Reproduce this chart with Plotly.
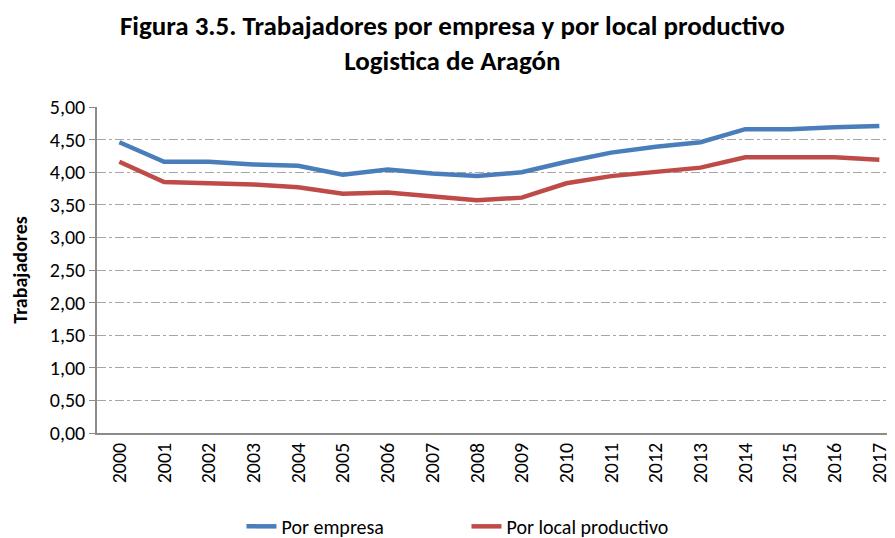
import plotly.graph_objects as go

# Data
years = [2000, 2001, 2002, 2003, 2004, 2005, 2006, 2007, 2008,
         2009, 2010, 2011, 2012, 2013, 2014, 2015, 2016, 2017]
por_empresa = [4.46, 4.16, 4.16, 4.12, 4.10, 3.96, 4.04, 3.98, 3.94,
               4.00, 4.16, 4.30, 4.39, 4.46, 4.66, 4.66, 4.69, 4.71]
por_local = [4.16, 3.85, 3.83, 3.81, 3.77, 3.67, 3.69, 3.63, 3.57,
             3.61, 3.83, 3.94, 4.01, 4.07, 4.23, 4.23, 4.23, 4.19]
y_ticks = [0, 0.5, 1, 1.5, 2, 2.5, 3, 3.5, 4, 4.5, 5]

font_family = "Carlito, 'Liberation Sans Narrow', 'Liberation Sans', Arial, sans-serif"

fig = go.Figure()
fig.add_trace(go.Scatter(
    x=years, y=por_empresa, mode='lines', name='Por empresa',
    line=dict(color='#4A7EBB', width=4.5)
))
fig.add_trace(go.Scatter(
    x=years, y=por_local, mode='lines', name='Por local productivo',
    line=dict(color='#BE4B48', width=4.5)
))

# page body has an 8px margin, so the figure is a bit smaller than the window
fig.update_layout(
    width=887, height=530,
    paper_bgcolor='white', plot_bgcolor='white',
    margin=dict(l=89, r=0, t=99, b=105, autoexpand=False),
    font=dict(family=font_family, size=20, color='#000000'),
    separators=',.',
    title=dict(
        text='<b>Figura 3.5. Trabajadores por empresa y por local productivo<br>Logistica de Aragón</b>',
        x=0.501, xanchor='center', y=0.949, yanchor='top',
        font=dict(size=27, family=font_family)
    ),
    showlegend=True,
    legend=dict(
        orientation='h', x=0.463, xanchor='center',
        yref='container', y=0.022, yanchor='middle',
        entrywidth=180, entrywidthmode='pixels',
        font=dict(size=20), tracegroupgap=0
    ),
)

fig.update_xaxes(
    range=[1999.5, 2017.35],
    tickvals=years, ticktext=[str(y) for y in years],
    tickangle=-90, showgrid=False, zeroline=False,
    showline=True, linecolor='#8C8C8C', linewidth=1.5,
    ticks='', tickfont=dict(size=20), automargin=False
)
fig.update_yaxes(
    range=[0, 5], tickvals=y_ticks, tickformat='.2f',
    showgrid=True, gridcolor='#A6A6A6', griddash='dashdot', gridwidth=1,
    zeroline=False, showline=True, linecolor='#8C8C8C', linewidth=1.5,
    ticks='outside', ticklen=6, tickcolor='#8C8C8C',
    title=dict(text='<b>Trabajadores</b>', font=dict(size=20), standoff=20),
    tickfont=dict(size=20), automargin=False
)

fig.write_html("out.html")
